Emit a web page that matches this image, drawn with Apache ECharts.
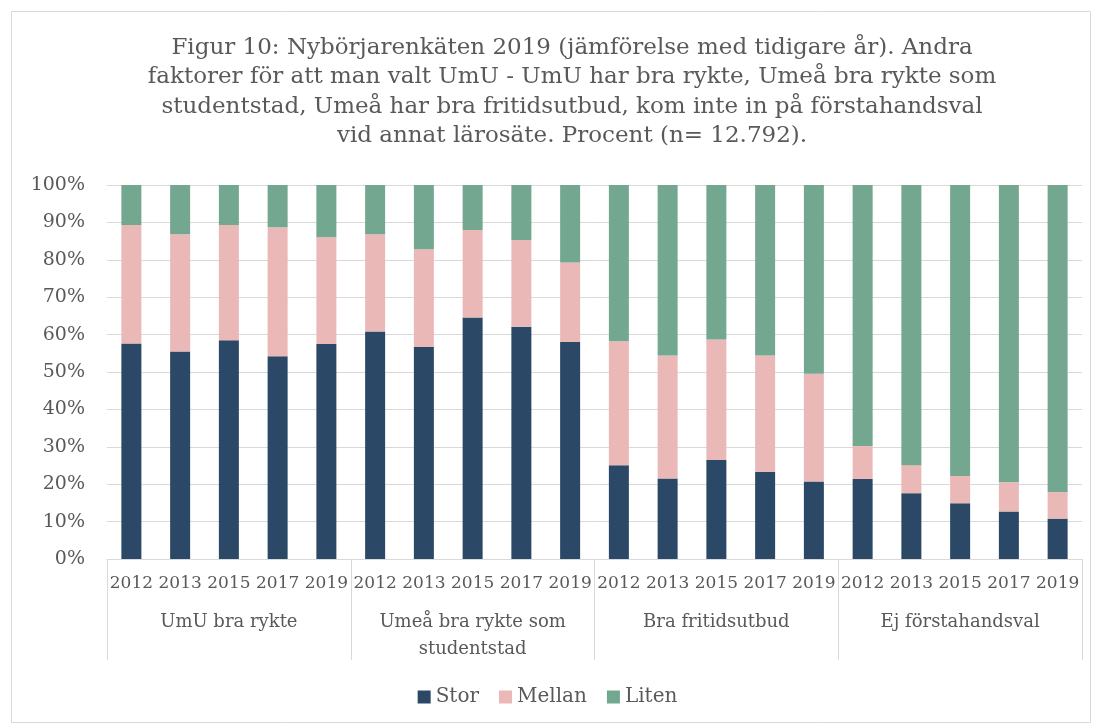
<!DOCTYPE html>
<html>
<head>
<meta charset="utf-8">
<script src="https://cdn.jsdelivr.net/npm/echarts@6/dist/echarts.min.js"></script>
<style>
  html, body { margin: 0; padding: 0; background: #fff; }
  #chart { width: 1095px; height: 726px; }
</style>
</head>
<body>
<div id="chart"></div>
<script>
// Kategorier
const years = ['2012', '2013', '2015', '2017', '2019'];
const groups = ['UmU bra rykte', 'Umeå bra rykte som\nstudentstad', 'Bra fritidsutbud', 'Ej förstahandsval'];
const yTicks = [0, 10, 20, 30, 40, 50, 60, 70, 80, 90, 100];

// Procent per år och faktor (avläst)
const stor = [57.6, 55.5, 58.5, 54.2, 57.5, 60.8, 56.7, 64.6, 62.1, 58.0, 25.1, 21.5, 26.5, 23.3, 20.7, 21.4, 17.6, 14.9, 12.7, 10.8];
const mellan = [31.7, 31.3, 30.8, 34.5, 28.5, 26.0, 26.1, 23.4, 23.2, 21.3, 33.1, 32.9, 32.2, 31.1, 28.8, 8.8, 7.5, 7.3, 7.8, 7.1];
const liten = [10.7, 13.2, 10.7, 11.3, 14.0, 13.2, 17.2, 12.0, 14.7, 20.7, 41.8, 45.6, 41.3, 45.6, 50.5, 69.8, 74.9, 77.8, 79.5, 82.1];

const yearCats = groups.flatMap(() => years);

const font = 'DejaVu Serif';
const textColor = '#595959';
const lineColor = '#d9d9d9';

const chart = echarts.init(document.getElementById('chart'), null, { renderer: 'canvas' });

function barSeries(name, data, color) {
  return {
    name,
    type: 'bar',
    stack: 'total',
    data,
    barWidth: 20,
    xAxisIndex: 0,
    itemStyle: { color },
    emphasis: { disabled: true },
  };
}

chart.setOption({
  animation: false,
  textStyle: { fontFamily: font },
  title: {
    text: 'Figur 10: Nybörjarenkäten 2019 (jämförelse med tidigare år). Andra\n' +
      'faktorer för att man valt UmU - UmU har bra rykte, Umeå bra rykte som\n' +
      'studentstad, Umeå har bra fritidsutbud, kom inte in på förstahandsval\n' +
      'vid annat lärosäte. Procent (n= 12.792).',
    left: 567,
    top: 28,
    textAlign: 'center',
    textStyle: {
      fontFamily: font,
      fontSize: 23,
      fontWeight: 'normal',
      color: textColor,
      lineHeight: 29.5,
    },
  },
  legend: {
    top: 682,
    left: 'center',
    itemWidth: 13,
    itemHeight: 13,
    itemGap: 20,
    icon: 'rect',
    textStyle: { fontFamily: font, fontSize: 20, color: textColor },
    data: ['Stor', 'Mellan', 'Liten'],
  },
  grid: { left: 107, right: 13, top: 185, bottom: 167, containLabel: false },
  xAxis: [
    {
      type: 'category',
      data: yearCats,
      position: 'bottom',
      axisLine: { show: true, lineStyle: { color: lineColor, width: 1 } },
      axisTick: { show: false },
      axisLabel: {
        interval: 0,
        margin: 11,
        fontFamily: font,
        fontSize: 17,
        lineHeight: 27,
        color: textColor,
      },
    },
    {
      type: 'category',
      data: groups,
      position: 'bottom',
      axisLine: { show: false },
      axisTick: { show: true, interval: 0, length: 101, lineStyle: { color: lineColor, width: 1 } },
      axisLabel: {
        interval: 0,
        margin: 50,
        fontFamily: font,
        fontSize: 18,
        lineHeight: 27,
        color: textColor,
      },
    },
  ],
  yAxis: {
    type: 'value',
    min: 0,
    max: 100,
    interval: 10,
    axisLine: { show: false },
    axisTick: { show: false },
    splitLine: { lineStyle: { color: lineColor, width: 1 } },
    axisLabel: {
      margin: 22,
      fontFamily: font,
      fontSize: 19,
      color: textColor,
      formatter: (v) => (yTicks.includes(v) ? v + '%' : ''),
    },
  },
  graphic: [
    {
      type: 'rect',
      shape: { x: 11.5, y: 11.5, width: 1079, height: 711 },
      style: { fill: 'none', stroke: lineColor, lineWidth: 1 },
      silent: true,
    },
  ],
  series: [
    barSeries('Stor', stor, '#2b4866'),
    barSeries('Mellan', mellan, '#eab9b7'),
    barSeries('Liten', liten, '#73a78f'),
  ],
});
</script>
</body>
</html>
